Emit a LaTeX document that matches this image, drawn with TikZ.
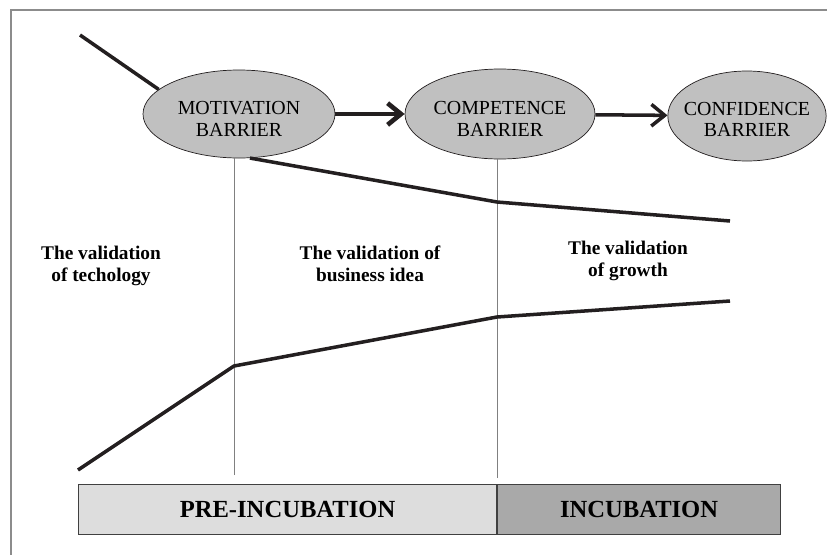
\documentclass[tikz,border=0pt]{standalone}
\usepackage{fontspec}
\setmainfont{Liberation Serif}
\usepackage{tikz}
\usetikzlibrary{arrows,arrows.meta,positioning,calc,shapes}
\definecolor{barrierfill}{HTML}{C0C0C0}
\definecolor{prefill}{HTML}{DDDDDD}
\definecolor{incfill}{HTML}{A9A9A9}
\definecolor{ink}{HTML}{231F20}

\begin{document}
\begin{tikzpicture}[x=0.03cm,y=-0.03cm,
		barrier/.style={ellipse,draw=ink,line width=0.6pt,fill=barrierfill,inner sep=0pt},
		barriertext/.style={align=center,inner sep=0pt,font=\fontsize{17}{18.5}\selectfont},
		phase/.style={align=center,font=\fontsize{16.5}{18.5}\selectfont\bfseries},
		stage/.style={rectangle,draw=black!75,line width=0.9pt,minimum height=1.5cm,inner sep=0pt,font=\fontsize{21}{24}\selectfont\bfseries},
		curve/.style={ink,line width=3pt,line join=round},
		divider/.style={gray,line width=0.7pt},
		push/.style={ink,-{Straight Barb[length=4mm,width=6.5mm]}}]
		\useasboundingbox (0,0) rectangle (827,555);
		\draw[gray!90,line width=1.5pt] (11,555) -- (11,10) -- (827,10);
		\node[barrier,minimum width=5.76cm,minimum height=2.64cm] (mot) at (239,114) {};
		\node[barrier,minimum width=5.7cm,minimum height=2.7cm] (comp) at (500,114) {};
		\node[barrier,minimum width=4.75cm,minimum height=2.7cm] (conf) at (747,116) {};
		\node[barriertext] (motl) at ([yshift=-4pt]mot.center) {MOTIVATION\\BARRIER};
		\node[barriertext] (compl) at ([yshift=-4pt]comp.center) {COMPETENCE\\BARRIER};
		\node[barriertext] (confl) at ([yshift=-3pt]conf.center) {CONFIDENCE\\BARRIER};
		\draw[push,line width=4pt] (mot) -- (comp);
		\draw[push,line width=3pt] (comp) -- (conf);
		\coordinate (start) at (80,35);
		\draw[curve] (start) -- (mot.163);
		\coordinate (v1) at (234,475);
		\coordinate (v2) at (497,478);
		\draw[divider] (v1) -- (v1 |- mot.south);
		\draw[divider] (v2) -- (v2 |- comp.south);
		\coordinate (uk) at (497,202);
		\coordinate (ue) at (730,221);
		\draw[curve] (mot.284) -- (uk) -- (ue);
		\coordinate (ls) at (78,470);
		\coordinate (lk1) at (234,366);
		\coordinate (lk2) at (497,317);
		\coordinate (le) at (730,301);
		\draw[curve] (ls) -- (lk1) -- (lk2) -- (le);
		\node[phase] (tech) at (101,266) {The validation\\of techology};
		\node[phase] (idea) at (370,264) {The validation of\\business idea};
		\node[phase] (grow) at (628,261) {The validation\\of growth};
		\node[stage,fill=prefill,minimum width=12.54cm,anchor=north west] (pre) at (78,484) {PRE-INCUBATION};
		\node[stage,fill=incfill,minimum width=8.49cm,anchor=north west] (inc) at (pre.north east) {INCUBATION};
\end{tikzpicture}
\end{document}
